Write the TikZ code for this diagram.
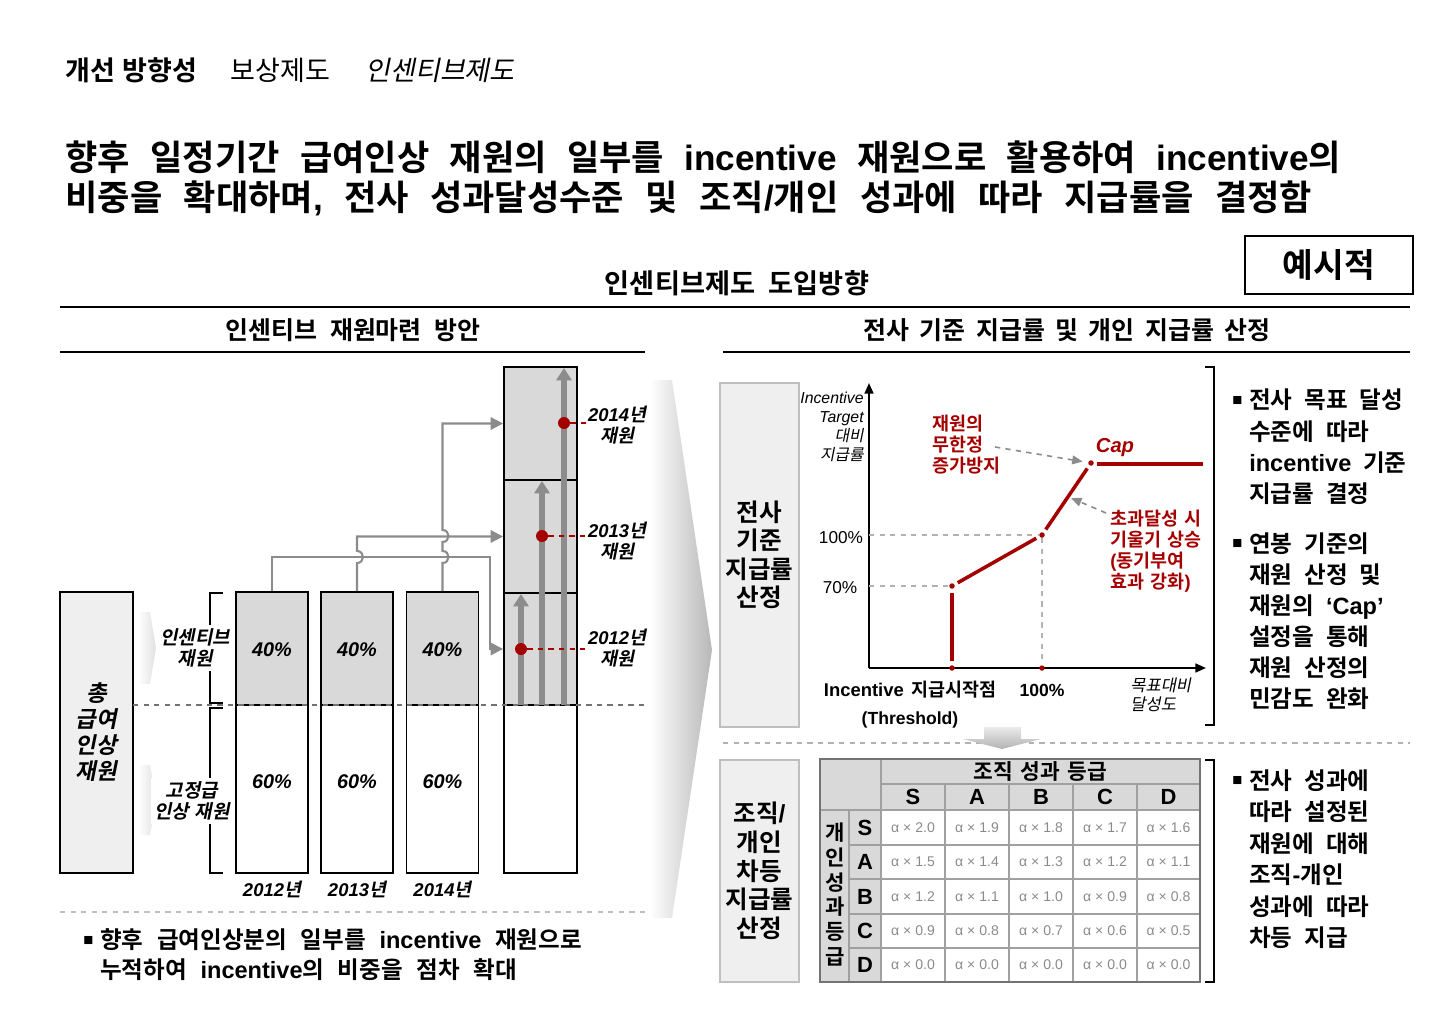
\documentclass[tikz,border=0pt]{standalone}
\usepackage{fontspec}
\setmainfont{Liberation Sans}
\newfontfamily\krfam{Noto Sans CJK KR}[BoldFont={Noto Sans CJK KR Bold}, ItalicFont={Noto Sans CJK KR}, ItalicFeatures={FakeSlant=0.2}, BoldItalicFont={Noto Sans CJK KR Bold}, BoldItalicFeatures={FakeSlant=0.2}]
% automatic switch to the Korean font for Hangul syllables
\XeTeXinterchartokenstate=1
\newcount\krc
\krc="AC00
\loop
  \XeTeXcharclass\krc=7
  \advance\krc 1
\ifnum\krc<"D7A4 \repeat
\XeTeXinterchartoks 0 7 = {\krfam}
\XeTeXinterchartoks 1 7 = {\krfam}
\XeTeXinterchartoks 2 7 = {\krfam}
\XeTeXinterchartoks 3 7 = {\krfam}
\XeTeXinterchartoks 4095 7 = {\krfam}
\XeTeXinterchartoks 7 0 = {\rmfamily}
\XeTeXinterchartoks 7 1 = {\rmfamily}
\XeTeXinterchartoks 7 2 = {\rmfamily}
\XeTeXinterchartoks 7 3 = {\rmfamily}
\XeTeXinterchartoks 7 4095 = {\rmfamily}
\usetikzlibrary{arrows.meta}
\definecolor{dred}{HTML}{A50000}
\definecolor{boxgray}{HTML}{EFEFEF}
\definecolor{cellgray}{HTML}{D9D9D9}
\definecolor{conngray}{HTML}{8C8C8C}
\definecolor{valgray}{HTML}{8A8A8A}
\definecolor{tgridc}{HTML}{A0A0A0}
\newcommand{\fs}[2]{\fontsize{#1}{#2}\selectfont\spaceskip=0.5em\relax}
\newcommand{\fsw}[3]{\fontsize{#1}{#2}\selectfont\spaceskip=#3em\relax}
\newcommand{\bul}{\makebox[0.72em][l]{\raisebox{0.14em}{\fontsize{9.5}{9.5}\selectfont ■}}}
\newcommand{\ind}{\hspace*{0.72em}}
\begin{document}
\begin{tikzpicture}[x=0.02cm,y=-0.02cm,
  txt/.style={inner sep=0pt, align=center},
  bx/.style={draw=black, line width=1.1pt},
  conn/.style={draw=conngray, line width=1.2pt},
  connarr/.style={conn, -{Triangle[length=7pt,width=7pt]}},
  uparr/.style={draw=conngray, line width=3.6pt, -{Triangle[length=7pt,width=8.5pt]}},
  rdot/.style={circle, fill=dred, inner sep=0pt, minimum size=0.24cm},
  sdot/.style={circle, fill=dred, inner sep=0pt, minimum size=0.11cm},
  graybox/.style={draw=black!25, line width=1pt, fill=boxgray, align=center},
  tgrid/.style={draw=tgridc, line width=1pt},
  val/.style={txt, font=\fontsize{8}{9}\selectfont, text=valgray},
  hdr/.style={txt, font=\fs{12.5}{15}\bfseries},
  lbl/.style={txt, font=\fs{10.5}{12}\bfseries\itshape},
  redt/.style={txt, text=dred, font=\fs{10.5}{12}\bfseries, align=left},
]
\useasboundingbox (0,0) rectangle (1430,1031);

% chevron between panels
\shade[left color=white, right color=black!28] (650,380) -- (672,380) -- (712,650) -- (672,918) -- (650,918) -- cycle;
\shade[left color=white, right color=black!12] (138,612) -- (150,612) -- (156,648) -- (150,684) -- (138,684) -- cycle;
\shade[left color=white, right color=black!12] (138,765) -- (150,765) -- (156,800) -- (150,835) -- (138,835) -- cycle;

% header
\node[txt, anchor=west, font=\fontsize{15.4}{18}\selectfont\bfseries] (hA) at (65,70) {개선 방향성};
\node[txt, anchor=west, font=\fontsize{15.4}{18}\selectfont] (hB) at (230,70) {보상제도};
\node[txt, anchor=west, font=\fontsize{15.4}{18}\selectfont\itshape] (hC) at (365,70) {인센티브제도};

\node[txt, anchor=west, font=\fsw{20}{24}{0.58}\bfseries] (tA) at (65,157) {향후 일정기간 급여인상 재원의 일부를 incentive 재원으로 활용하여 incentive의};
\node[txt, anchor=west, font=\fsw{20}{24}{0.61}\bfseries] (tB) at (65,198) {비중을 확대하며, 전사 성과달성수준 및 조직/개인 성과에 따라 지급률을 결정함};

\node[draw, line width=1.1pt, minimum width=3.36cm, minimum height=1.16cm, font=\fs{19}{22}\bfseries] (ex) at (1329,265) {예시적};
\node[txt, font=\fs{15.5}{18}\bfseries] (sec) at (737,283) {인센티브제도 도입방향};
\draw[line width=1.3pt] (60,307) -- (1410,307);
\node[txt, font=\fs{14.2}{16}\bfseries] (subL) at (353,330) {인센티브 재원마련 방안};
\draw[line width=1pt] (60,352) -- (645,352);
\node[txt, font=\fsw{14.2}{16}{0.42}\bfseries] (subR) at (1067,330) {전사 기준 지급률 및 개인 지급률 산정};
\draw[line width=1pt] (723,352) -- (1410,352);

% ---------- left panel ----------
\node[bx, fill=boxgray, minimum width=1.46cm, minimum height=5.62cm, align=center, font=\fs{12.8}{14.8}\bfseries\itshape] (tot) at (96.5,732.5) {총\\급여\\인상\\재원};

\draw[line width=1.1pt] (223,593) -- (210,593) -- (210,703) -- (223,703);
\draw[line width=1.1pt] (223,708) -- (210,708) -- (210,873) -- (223,873);
\node[txt, fill=white, inner sep=2pt, font=\fs{10.8}{12}\bfseries\itshape] (lInc) at (195,648) {인센티브\\재원};
\node[txt, fill=white, inner sep=2pt, font=\fsw{10.8}{12}{0.3}\bfseries\itshape] (lFix) at (192,801) {고정급\\인상 재원};

\foreach \n/\cx/\yr in {a/272/2012, b/357/2013, c/442.5/2014}{
  \node[bx, fill=cellgray, minimum width=1.44cm, minimum height=2.26cm] (top\n) at (\cx,648.5) {};
  \node[bx, minimum width=1.44cm, minimum height=3.36cm] (bot\n) at (\cx,789) {};
  \node[txt, font=\fs{11.3}{14}\bfseries\itshape] (pf\n) at (\cx,650) {40\%};
  \node[txt, font=\fs{11.3}{14}\bfseries\itshape] (ps\n) at (\cx,782) {60\%};
  \node[txt, font=\fs{10.5}{13}\bfseries\itshape] (yr\n) at (\cx,889) {\yr 년};
}

\node[bx, fill=cellgray, minimum width=1.46cm, minimum height=2.26cm] (s14) at (540.5,423.5) {};
\node[bx, fill=cellgray, minimum width=1.46cm, minimum height=2.26cm] (s13) at (540.5,536.5) {};
\node[bx, fill=cellgray, minimum width=1.46cm, minimum height=2.24cm] (s12) at (540.5,649) {};
\node[bx, minimum width=1.46cm, minimum height=3.36cm] (s00) at (540.5,789) {};

\coordinate (u1s) at (521,705); \coordinate (u1e) at (521,594);
\coordinate (u2s) at (542,705); \coordinate (u2e) at (542,481);
\coordinate (u3s) at (564,705); \coordinate (u3e) at (564,368);
\draw[uparr] (u1s) -- (u1e);
\draw[uparr] (u2s) -- (u2e);
\draw[uparr] (u3s) -- (u3e);

\node[rdot] (d12) at (521,649) {};
\node[rdot] (d13) at (542,536) {};
\node[rdot] (d14) at (564,423) {};
\node[lbl] (y12) at (617,648) {2012년\\재원};
\node[lbl] (y13) at (617,541) {2013년\\재원};
\node[lbl] (y14) at (617,425) {2014년\\재원};
\draw[dred, dashed, line width=0.9pt] (d12) -- (y12.west |- d12);
\draw[dred, dashed, line width=0.9pt] (d13) -- (y13.west |- d13);
\draw[dred, dashed, line width=0.9pt] (d14) -- (y14.west |- d14);

% connectors with hops
\draw[connarr] (topa.north) -- (272,557) -- (490,557) -- (490,649) -- (s12.west);
\draw[connarr] (topb.north) -- (357,563) .. controls (365,563) and (365,551) .. (357,551) -- (357,536.5) -- (s13.west);
\draw[connarr] (topc.north) -- (442.5,563) .. controls (450.5,563) and (450.5,551) .. (442.5,551) -- (442.5,542) .. controls (450.5,542) and (450.5,530) .. (442.5,530) -- (442.5,423.5) -- (s14.west);

\draw[black!55, dashed, line width=1pt] (133,705) -- (645,705);
\draw[black!25, dashed, line width=1pt] (60,912) -- (645,912);

\node[txt, anchor=west, font=\fsw{13.4}{16}{0.58}\bfseries] (bt1) at (83,940) {\bul 향후 급여인상분의 일부를 incentive 재원으로};
\node[txt, anchor=west, font=\fsw{13.4}{16}{0.58}\bfseries] (bt2) at (83,970) {\ind 누적하여 incentive의 비중을 점차 확대};

% ---------- right panel: graph ----------
\node[graybox, minimum width=1.46cm, minimum height=6.88cm, font=\fs{14}{16.2}\bfseries] (b1) at (759.5,555) {전사\\기준\\지급률\\산정};

\coordinate (O) at (869,668);
\coordinate (yt) at (869,383);
\coordinate (xt) at (1206,668);
\draw[line width=1.1pt, -{Triangle[length=6pt,width=5pt]}] (O) -- (yt);
\draw[line width=1.1pt, -{Triangle[length=6pt,width=5pt]}] (O) -- (xt);

\node[txt, anchor=east, align=right, font=\fs{9}{10.8}\itshape] (ylab) at (864,427) {Incentive\\Target\\대비\\지급률};
\node[txt, font=\fs{9.8}{12}] (y100) at (841,538) {100\%};
\node[txt, font=\fs{9.8}{12}] (y70) at (840,588) {70\%};

\node[sdot] (p0) at (952,668) {};
\node[sdot] (p1) at (952,586) {};
\node[sdot] (p2) at (1042,535) {};
\node[sdot] (p3) at (1091,463) {};
\node[sdot] (p4) at (1042,668) {};
\coordinate (pend) at (1203,464);

\draw[black!30, dashed, line width=0.9pt] (O |- p2) -- (p2);
\draw[black!30, dashed, line width=0.9pt] (O |- p1) -- (p1);
\draw[black!30, dashed, line width=0.9pt] (p2) -- (p4);

\draw[dred, line width=2pt, shorten <=2pt, shorten >=2pt] (p0) -- (p1);
\draw[dred, line width=2pt, shorten <=2pt, shorten >=2pt] (p1) -- (p2);
\draw[dred, line width=2pt, shorten <=2pt, shorten >=2pt] (p2) -- (p3);
\coordinate (p3r) at (1097,464);
\draw[dred, line width=2pt] (p3r) -- (pend);

\node[redt, anchor=west] (rt1) at (932,445) {재원의\\무한정\\증가방지};
\node[txt, text=dred, font=\fs{11.5}{14}\bfseries\itshape] (cap) at (1115,448) {Cap};
\node[redt, anchor=west, font=\fsw{10.5}{12}{0.35}\bfseries] (rt2) at (1110,551) {초과달성 시\\기울기 상승\\(동기부여\\효과 강화)};
\coordinate (a1s) at (995,447);
\coordinate (a2s) at (1106,513);
\coordinate (a2e) at (1071,498);
\draw[black!45, dashed, line width=0.9pt, -{Triangle[length=6pt,width=5pt]}, shorten >=3pt] (a1s) -- (p3);
\draw[black!45, dashed, line width=0.9pt, -{Triangle[length=6pt,width=5pt]}] (a2s) -- (a2e);

\node[txt, font=\fsw{10.5}{12}{0.4}\bfseries] (xl1) at (910,690) {Incentive 지급시작점};
\node[txt, font=\fs{10}{12}\bfseries] (xl2) at (910,720) {(Threshold)};
\node[txt, font=\fs{10}{12}\bfseries] (xl3) at (1042,690) {100\%};
\node[txt, anchor=west, align=left, font=\fs{9.4}{11}\itshape] (xl4) at (1130,695) {목표대비\\달성도};

\draw[line width=1pt] (1205,367) -- (1214,367) -- (1214,725) -- (1205,725);

\node[txt, anchor=west, align=left, font=\fsw{13.4}{17.9}{0.5}\bfseries] (rb1) at (1232,447) {\bul 전사 목표 달성\\\ind 수준에 따라\\\ind incentive 기준\\\ind 지급률 결정};
\node[txt, anchor=west, align=left, font=\fsw{13.4}{17.7}{0.5}\bfseries] (rb2) at (1232,621) {\bul 연봉 기준의\\\ind 재원 산정 및\\\ind 재원의 ‘Cap’\\\ind 설정을 통해\\\ind 재원 산정의\\\ind 민감도 완화};

% separator and down arrow
\draw[black!30, dashed, line width=1pt] (723,743) -- (1410,743);
\shade[top color=black!8, bottom color=black!30] (984,727) -- (1021,727) -- (1021,739) -- (1041,739) -- (1002,749) -- (963,739) -- (984,739) -- cycle;

% ---------- right panel: table ----------
\node[graybox, minimum width=1.46cm, minimum height=4.44cm, font=\fs{14}{16.3}\bfseries] (b2) at (759.5,871) {조직/\\개인\\차등\\지급률\\산정};

\fill[cellgray] (820,759) rectangle (1200,810);
\fill[cellgray] (820,810) rectangle (881,982);
\draw[tgrid] (881,784) -- (1200,784);
\draw[tgrid] (820,810) -- (1200,810);
\foreach \y in {845,879,914,948} \draw[tgrid] (849,\y) -- (1200,\y);
\draw[tgrid] (849,810) -- (849,982);
\draw[tgrid] (881,759) -- (881,982);
\foreach \x in {945,1009,1073,1137} \draw[tgrid] (\x,784) -- (\x,982);
\draw[draw=black!55, line width=1.1pt] (820,759) rectangle (1200,982);

\node[txt, font=\fsw{12.2}{15}{0.35}\bfseries] (orgh) at (1040.5,771.5) {조직 성과 등급};
\node[txt, font=\fs{12}{14.2}\bfseries] (indh) at (835,894.5) {개\\인\\성\\과\\등\\급};
\foreach \cx/\g in {913/S,977/A,1041/B,1105/C,1168.5/D} \node[hdr] (col\g) at (\cx,797) {\g};
\foreach \cy/\g in {827.5/S,862/A,896.5/B,931/C,965/D} \node[hdr] (row\g) at (865,\cy) {\g};

\foreach \cx/\v [count=\i] in {913/2.0,977/1.9,1041/1.8,1105/1.7,1168.5/1.6} \node[val] (vS\i) at (\cx,827.5) {α × \v};
\foreach \cx/\v [count=\i] in {913/1.5,977/1.4,1041/1.3,1105/1.2,1168.5/1.1} \node[val] (vA\i) at (\cx,862) {α × \v};
\foreach \cx/\v [count=\i] in {913/1.2,977/1.1,1041/1.0,1105/0.9,1168.5/0.8} \node[val] (vB\i) at (\cx,896.5) {α × \v};
\foreach \cx/\v [count=\i] in {913/0.9,977/0.8,1041/0.7,1105/0.6,1168.5/0.5} \node[val] (vC\i) at (\cx,931) {α × \v};
\foreach \cx/\v [count=\i] in {913/0.0,977/0.0,1041/0.0,1105/0.0,1168.5/0.0} \node[val] (vD\i) at (\cx,965) {α × \v};

\draw[line width=1pt] (1205,760) -- (1214,760) -- (1214,982) -- (1205,982);

\node[txt, anchor=west, align=left, font=\fsw{13.4}{17.9}{0.5}\bfseries] (rb3) at (1232,859) {\bul 전사 성과에\\\ind 따라 설정된\\\ind 재원에 대해\\\ind 조직-개인\\\ind 성과에 따라\\\ind 차등 지급};
\end{tikzpicture}
\end{document}
